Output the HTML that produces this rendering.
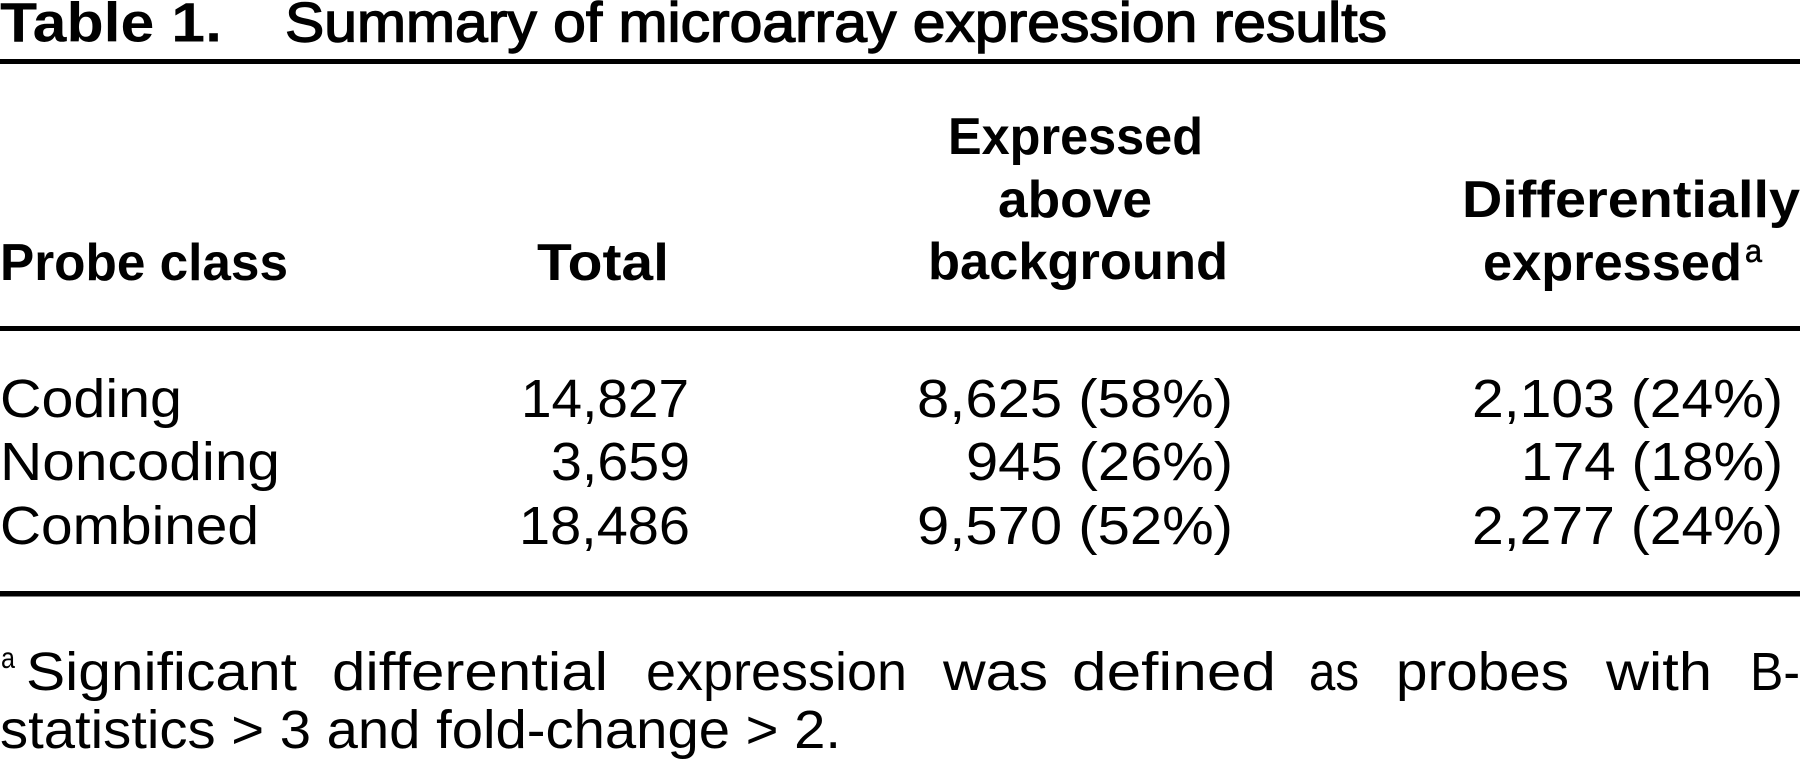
<!DOCTYPE html>
<html>
<head>
<meta charset="utf-8">
<style>
  html, body { margin: 0; padding: 0; background: #fff; }
  body { width: 1800px; height: 768px; overflow: hidden; }
  svg { display: block; }
  text { font-family: "Liberation Sans", sans-serif; fill: #000; }
  .b { font-weight: bold; }
</style>
</head>
<body>
<svg width="1800" height="768" viewBox="0 0 1800 768" xmlns="http://www.w3.org/2000/svg">
  <rect x="0" y="0" width="1800" height="768" fill="#fff"/>

  <!-- Title -->
  <text class="b" x="0" y="41.5" font-size="56" textLength="222" lengthAdjust="spacingAndGlyphs">Table 1.</text>
  <text x="285" y="41.5" font-size="56" stroke="#000" stroke-width="1.4" textLength="1102" lengthAdjust="spacingAndGlyphs">Summary of microarray expression results</text>

  <!-- Rules -->
  <rect x="0" y="59" width="1800" height="5" fill="#000"/>
  <rect x="0" y="326" width="1800" height="5" fill="#000"/>
  <rect x="0" y="591" width="1800" height="5.5" fill="#000"/>

  <!-- Header -->
  <text class="b" x="0" y="280" font-size="52" textLength="288" lengthAdjust="spacingAndGlyphs">Probe class</text>
  <text class="b" x="537" y="280" font-size="52" textLength="132" lengthAdjust="spacingAndGlyphs">Total</text>
  <text class="b" x="948" y="154" font-size="52" textLength="255" lengthAdjust="spacingAndGlyphs">Expressed</text>
  <text class="b" x="998" y="217" font-size="52" textLength="154" lengthAdjust="spacingAndGlyphs">above</text>
  <text class="b" x="928" y="279" font-size="52" textLength="300" lengthAdjust="spacingAndGlyphs">background</text>
  <text class="b" x="1462" y="217" font-size="52" textLength="338" lengthAdjust="spacingAndGlyphs">Differentially</text>
  <text class="b" x="1483" y="280" font-size="52" textLength="259" lengthAdjust="spacingAndGlyphs">expressed</text>
  <text x="1745" y="262" font-size="32" stroke="#000" stroke-width="0.6" textLength="17" lengthAdjust="spacingAndGlyphs">a</text>

  <!-- Row 1 -->
  <text x="0" y="417" font-size="54" textLength="182" lengthAdjust="spacingAndGlyphs">Coding</text>
  <text x="521" y="417" font-size="54" textLength="168" lengthAdjust="spacingAndGlyphs">14,827</text>
  <text x="917" y="417" font-size="54" textLength="316" lengthAdjust="spacingAndGlyphs">8,625 (58%)</text>
  <text x="1472" y="417" font-size="54" textLength="311" lengthAdjust="spacingAndGlyphs">2,103 (24%)</text>

  <!-- Row 2 -->
  <text x="0" y="480" font-size="54" textLength="280" lengthAdjust="spacingAndGlyphs">Noncoding</text>
  <text x="551" y="480" font-size="54" textLength="139" lengthAdjust="spacingAndGlyphs">3,659</text>
  <text x="966" y="480" font-size="54" textLength="267" lengthAdjust="spacingAndGlyphs">945 (26%)</text>
  <text x="1521" y="480" font-size="54" textLength="262" lengthAdjust="spacingAndGlyphs">174 (18%)</text>

  <!-- Row 3 -->
  <text x="0" y="544" font-size="54" textLength="259" lengthAdjust="spacingAndGlyphs">Combined</text>
  <text x="519" y="544" font-size="54" textLength="171" lengthAdjust="spacingAndGlyphs">18,486</text>
  <text x="917" y="544" font-size="54" textLength="316" lengthAdjust="spacingAndGlyphs">9,570 (52%)</text>
  <text x="1472" y="544" font-size="54" textLength="311" lengthAdjust="spacingAndGlyphs">2,277 (24%)</text>

  <!-- Footnote -->
  <text x="1" y="668" font-size="30" textLength="14" lengthAdjust="spacingAndGlyphs">a</text>
  <text x="26" y="690" font-size="54" textLength="271" lengthAdjust="spacingAndGlyphs">Significant</text>
  <text x="332" y="690" font-size="54" textLength="276" lengthAdjust="spacingAndGlyphs">differential</text>
  <text x="646" y="690" font-size="54" textLength="261" lengthAdjust="spacingAndGlyphs">expression</text>
  <text x="943" y="690" font-size="54" textLength="105" lengthAdjust="spacingAndGlyphs">was</text>
  <text x="1072" y="690" font-size="54" textLength="204" lengthAdjust="spacingAndGlyphs">defined</text>
  <text x="1309" y="690" font-size="54" textLength="50" lengthAdjust="spacingAndGlyphs">as</text>
  <text x="1396" y="690" font-size="54" textLength="173" lengthAdjust="spacingAndGlyphs">probes</text>
  <text x="1606" y="690" font-size="54" textLength="106" lengthAdjust="spacingAndGlyphs">with</text>
  <text x="1750" y="690" font-size="54" textLength="50" lengthAdjust="spacingAndGlyphs">B-</text>
  <text x="0" y="748" font-size="54" textLength="841" lengthAdjust="spacingAndGlyphs">statistics &gt; 3 and fold-change &gt; 2.</text>
</svg>
</body>
</html>
